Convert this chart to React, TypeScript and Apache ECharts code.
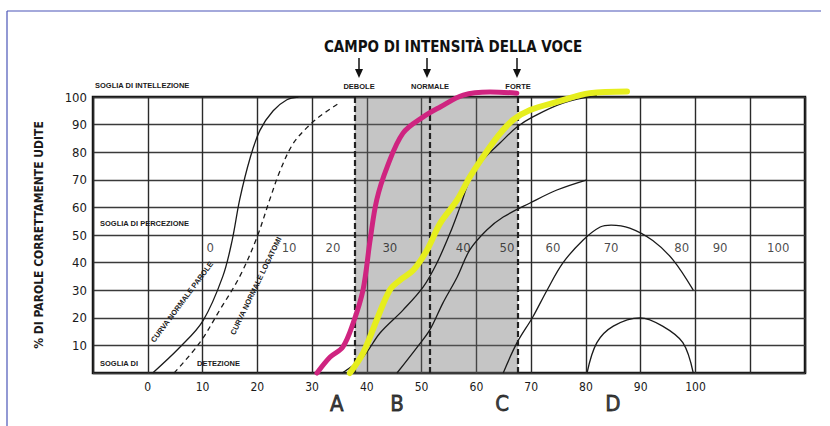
import React, { useEffect, useRef } from "react";
import * as echarts from "echarts";

// ---- data ----
type Pt = [number, number];

const paroleNormal: Pt[] = [
  [0.9, 0], [5.9, 9.4], [10.1, 19], [13.7, 35], [15.4, 48], [16.8, 63],
  [18.7, 78], [20.5, 88], [22.9, 95], [25.4, 99], [27.5, 100],
];
const logatomiNormal: Pt[] = [
  [4.8, 0], [9.5, 11], [13.2, 23], [16.8, 35], [19.9, 49], [22.3, 63],
  [24.1, 73], [26.5, 83], [29.1, 89], [31.4, 93], [35.1, 98],
];
const curveA: Pt[] = [
  [30.9, 0], [33.3, 5.8], [35.6, 9.4], [37.5, 18.1], [39.3, 30.1], [40.6, 48.2],
  [41.8, 62.7], [43.7, 74.6], [46.6, 86.9], [50.3, 92.8], [53.4, 96.4],
  [57.6, 100.7], [62.5, 101.8], [67.4, 101.4],
];
const curveBYellow: Pt[] = [
  [36.9, 0], [39.3, 7.2], [41.8, 19.2], [44.2, 30.1], [46.1, 33.7], [48.5, 37.3],
  [51, 44.6], [53.4, 54.3], [56.5, 62.7], [58.8, 71], [61.2, 78.3], [63.8, 85.5],
  [66.7, 91.7], [69.8, 95.3], [74.7, 98.2], [80.7, 101.4], [87.5, 102],
];
const curveBBlack: Pt[] = [
  [35.5, 0], [39.3, 5.8], [42.4, 14.5], [46.6, 22.8], [50.3, 31.2], [52.8, 39.9],
  [55.2, 50.7], [57, 60.1], [58.8, 69.9], [61.2, 77.2], [64.3, 83.3], [67.4, 89.1],
  [70.3, 92.8], [75.8, 97.8], [82, 100.6],
];
const curveC: Pt[] = [
  [45.5, 0], [49.2, 9.4], [51.5, 15.6], [53.9, 25.4], [56.5, 34.8], [58.8, 44.6],
  [61.9, 51.8], [64.9, 56.5], [69.8, 61.6], [74.7, 66.3], [80.2, 70],
];
const curveD: Pt[] = [
  [64.9, 0], [67.4, 10.9], [70.3, 20.3], [72.9, 30], [75.8, 39.9], [79.5, 48.2],
  [82.6, 52.9], [84.6, 53.6], [88, 52.5], [92.2, 48], [95.9, 41], [99.6, 30],
];
const curveDSmall: Pt[] = [
  [80.2, 0], [82, 11], [85, 17], [89.9, 20], [94, 17], [97.7, 11], [99.6, 0],
];

const voiceBand: [number, number] = [37.8, 67.6];
const voiceMarks = [37.8, 51.4, 67.6];

const hlScaleLabels = ["0", "10", "20", "30", "40", "50", "60", "70", "80", "90", "100"];
const hlScaleX = [11.4, 25.8, 33.8, 44.2, 57.6, 65.6, 74, 84.6, 97.5, 104.5, 115.1];
const hlScaleY = 45.3;

const curveNames = ["A", "B", "C", "D"];
const curveNameX = [34.5, 45.5, 64.7, 84.9];
const curveNameY = -10.9;

const xShownTicks = [0, 10, 20, 30, 40, 50, 60, 70, 80, 90, 100];
const yShownTicks = [10, 20, 30, 40, 50, 60, 70, 80, 90, 100];

const NARROW = "'Liberation Sans Narrow', 'DejaVu Sans Condensed', 'Liberation Sans', sans-serif";
const SANS = "'Liberation Sans', Arial, sans-serif";

const blackLine = (data: Pt[], dashed = false) => ({
  type: "line",
  data,
  smooth: 0.35,
  showSymbol: false,
  clip: false,
  silent: true,
  lineStyle: { color: "#1a1a1a", width: 1.3, type: dashed ? [5, 4] : "solid" },
  z: 3,
});

function smallText(text: string, x: number, y: number, align = "left", size = 7.5, rotation = 0) {
  return {
    type: "text",
    x,
    y,
    rotation,
    z: 50,
    style: {
      text,
      fill: "#1a1a1a",
      fontSize: size,
      fontWeight: "bold",
      fontFamily: SANS,
      textAlign: align,
      textVerticalAlign: "middle",
    },
  };
}

function arrow(x: number) {
  return [
    { type: "line", shape: { x1: x, y1: 58, x2: x, y2: 71 }, style: { stroke: "#111", lineWidth: 1.5 }, z: 50 },
    { type: "polygon", shape: { points: [[x - 4, 69], [x + 4, 69], [x, 78]] }, style: { fill: "#111" }, z: 50 },
  ];
}

export default function App() {
  const ref = useRef<HTMLDivElement>(null);
  useEffect(() => {
    const chart = echarts.init(ref.current!, null, { renderer: "svg" });
    const option: any = {
      animation: false,
      backgroundColor: "#fff",
      grid: {
        left: 93,
        top: 97,
        right: 25,
        bottom: 53,
        show: true,
        borderColor: "#111",
        borderWidth: 2.5,
        backgroundColor: "transparent",
      },
      xAxis: {
        type: "value",
        min: -10,
        max: 120,
        interval: 10,
        axisLine: { show: false },
        axisTick: { show: false },
        splitLine: { show: true, lineStyle: { color: "#2a2a2a", width: 1.4 } },
        axisLabel: {
          margin: 8,
          fontSize: 12,
          color: "#1a1a1a",
          fontFamily: NARROW,
          formatter: (v: number) => (xShownTicks.includes(v) ? String(v) : ""),
        },
      },
      yAxis: {
        type: "value",
        min: 0,
        max: 100,
        interval: 10,
        name: "% DI PAROLE CORRETTAMENTE UDITE",
        nameLocation: "middle",
        nameGap: 48,
        nameRotate: 90,
        nameTextStyle: { fontSize: 12, fontWeight: "bold", color: "#1a1a1a", fontFamily: NARROW },
        axisLine: { show: false },
        axisTick: { show: false },
        splitLine: { show: true, lineStyle: { color: "#3a3a3a", width: 1.3 } },
        axisLabel: {
          margin: 6,
          fontSize: 13,
          color: "#1a1a1a",
          fontFamily: NARROW,
          formatter: (v: number) => (yShownTicks.includes(v) ? String(v) : ""),
        },
      },
      series: [
        {
          type: "line",
          data: [],
          silent: true,
          z: 1,
          markArea: {
            silent: true,
            itemStyle: { color: "rgba(110,110,110,0.4)" },
            data: [[{ xAxis: voiceBand[0] }, { xAxis: voiceBand[1] }]],
          },
          markLine: {
            silent: true,
            symbol: "none",
            label: { show: false },
            lineStyle: { color: "#222", width: 2.2, type: [6, 3] },
            data: voiceMarks.map((v) => ({ xAxis: v })),
          },
        },
        blackLine(paroleNormal),
        blackLine(logatomiNormal, true),
        blackLine(curveBBlack),
        blackLine(curveC),
        blackLine(curveD),
        blackLine(curveDSmall),
        {
          type: "line",
          data: curveBYellow,
          smooth: 0.35,
          showSymbol: false,
          clip: false,
          silent: true,
          lineStyle: { color: "#e6ee1e", width: 6, cap: "round" },
          z: 5,
        },
        {
          type: "line",
          data: curveA,
          smooth: 0.35,
          showSymbol: false,
          clip: false,
          silent: true,
          lineStyle: { color: "#cf2480", width: 5, cap: "round" },
          z: 6,
        },
        {
          type: "scatter",
          silent: true,
          symbolSize: 0,
          z: 7,
          data: hlScaleX.map((x, i) => [x, hlScaleY, hlScaleLabels[i]]),
          label: {
            show: true,
            position: "inside",
            formatter: (p: any) => p.value[2],
            fontSize: 13,
            color: "#1a1a1a",
            fontFamily: NARROW,
          },
        },
        {
          type: "scatter",
          silent: true,
          symbolSize: 0,
          clip: false,
          z: 7,
          data: curveNameX.map((x, i) => [x, curveNameY, curveNames[i]]),
          label: {
            show: true,
            position: "inside",
            formatter: (p: any) => p.value[2],
            fontSize: 22,
            color: "#111",
            textBorderColor: "#111",
            textBorderWidth: 0.8,
            fontFamily: NARROW,
          },
        },
      ],
      graphic: [
        { type: "line", shape: { x1: 7, y1: 11, x2: 821, y2: 11 }, style: { stroke: "#4a55b8", lineWidth: 1.2 } },
        { type: "line", shape: { x1: 7, y1: 11, x2: 7, y2: 426 }, style: { stroke: "#4a55b8", lineWidth: 1.2 } },
        {
          type: "text",
          x: 453,
          y: 47,
          z: 50,
          style: {
            text: "CAMPO DI INTENSITÀ DELLA VOCE",
            fill: "#111",
            fontSize: 15,
            fontWeight: "bold",
            fontFamily: NARROW,
            textAlign: "center",
            textVerticalAlign: "middle",
          },
        },
        ...arrow(359),
        ...arrow(427),
        ...arrow(517),
        smallText("DEBOLE", 359, 86, "center"),
        smallText("NORMALE", 430, 86, "center"),
        smallText("FORTE", 518, 86, "center"),
        smallText("SOGLIA DI INTELLEZIONE", 95, 85, "left"),
        smallText("SOGLIA DI PERCEZIONE", 100, 223, "left"),
        smallText("SOGLIA DI", 100, 363, "left"),
        smallText("DETEZIONE", 197, 363, "left"),
        smallText("CURVA NORMALE PAROLE", 182, 302, "center", 7.5, 0.93),
        smallText("CURVA NORMALE LOGATOMI", 256, 286, "center", 7.5, 1.12),
      ],
    };
    chart.setOption(option);
    return () => chart.dispose();
  }, []);
  return (
    <div
      ref={ref}
      style={{ position: "fixed", left: 0, top: 0, width: 830, height: 426, background: "#fff" }}
    />
  );
}
